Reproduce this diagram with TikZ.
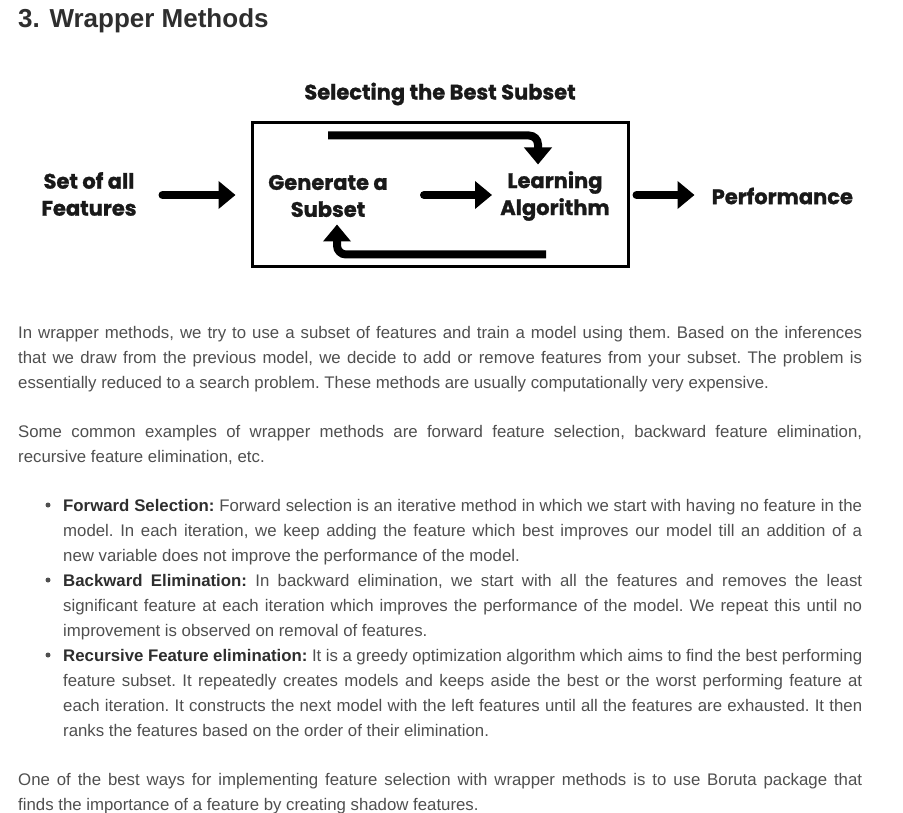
\documentclass[tikz,border=0pt]{standalone}
\usepackage{fontspec}
\setmainfont{Liberation Sans}
\newfontfamily\diafont{Poppins}[BoldFeatures={FakeBold=1.2}]
\usetikzlibrary{arrows.meta}
\usetikzlibrary{calc}
\definecolor{bodygray}{HTML}{4F4F4F}
\definecolor{headgray}{HTML}{2E2E2E}
\tikzset{
	diatext/.style={font=\diafont\bfseries\fontsize{21}{27}\selectfont, align=center, inner sep=0pt, text=black!90},
	fat/.style={line width=8pt, line cap=round, -{Triangle[length=17pt,width=27pt]}},
	bent/.style={fat, line cap=butt, rounded corners=9pt},
	body/.style={anchor=base west, inner sep=0pt, text width=844pt, align=justify, text=bodygray, font=\frenchspacing\fontsize{16.8}{25}\selectfont},
	item/.style={body, text width=799pt},
	dot/.style={circle, fill=bodygray, inner sep=0pt, minimum size=5pt},
}
\newcommand{\lead}[1]{\textcolor{headgray}{\textbf{#1}}}

\begin{document}
\begin{tikzpicture}[x=1pt, y=-1pt]
	% 903px x 813px, 1px = 1pt
	\useasboundingbox (0,0) rectangle (903,813);
	\node[anchor=base west, inner sep=0pt, text=headgray, font=\bfseries\fontsize{26}{30}\selectfont] (head) at (18,28) {3. Wrapper Methods};
	
	% the diagram
	\node[diatext] (title) at (440,94) {Selecting the Best Subset};
	\node[draw, line width=3pt, minimum width=376pt, minimum height=144pt, inner sep=0pt] (loop) at (440,195) {};
	\node[diatext] (allset) at (89,194) {Set of all\\Features};
	\node[diatext] (gen) at (328,196) {Generate a\\Subset};
	\node[diatext] (learn) at (555,196) {Learning\\Algorithm};
	\node[diatext, anchor=west] (perf) at ([xshift=82pt,yshift=-1pt]loop.east) {Performance};
	
	\draw[fat] ([xshift=-88pt]loop.west) -- ([xshift=-15pt]loop.west);
	\draw[fat] ([xshift=-16pt]loop.center) -- ([xshift=52pt]loop.center);
	\draw[fat] ([xshift=7pt]loop.east) -- ([xshift=65pt]loop.east);
	% feedback round the loop
	\draw[bent] ([xshift=-112pt,yshift=-14pt]loop.north) -| ([xshift=98pt,yshift=-43pt]loop.north);
	\draw[bent] ([xshift=106pt,yshift=14pt]loop.south) -| ([xshift=-103pt,yshift=44pt]loop.south);
	
	% text below
	\node[body] (intro) at (18,338) {In wrapper methods, we try to use a subset of features and train a model using them. Based on the inferences\linebreak
	that we draw from the previous model, we decide to add or remove features from your subset. The problem is\linebreak
	essentially reduced to a search problem. These methods are usually computationally very expensive.};
	\node[body] (common) at (18,437) {Some common examples of wrapper methods are forward feature selection, backward feature elimination,\linebreak
	recursive feature elimination, etc.};
	
	\foreach \y [count=\i] in {505,580,655}
		\node[dot] (dot\i) at (48,\y) {};
	\node[item] (fwd) at (63,511) {\lead{Forward Selection:} Forward selection is an iterative method in which we start with having no feature in the\linebreak
	model. In each iteration, we keep adding the feature which best improves our model till an addition of a\linebreak
	new variable does not improve the performance of the model.};
	\node[item] (bwd) at (63,586) {\lead{Backward Elimination:} In backward elimination, we start with all the features and removes the least\linebreak
	significant feature at each iteration which improves the performance of the model. We repeat this until no\linebreak
	improvement is observed on removal of features.};
	\node[item] (rfe) at (63,661) {\lead{Recursive Feature elimination:} It is a greedy optimization algorithm which aims to find the best performing\linebreak
	feature subset. It repeatedly creates models and keeps aside the best or the worst performing feature at\linebreak
	each iteration. It constructs the next model with the left features until all the features are exhausted. It then\linebreak
	ranks the features based on the order of their elimination.};
	
	\node[body] (boruta) at (18,785) {One of the best ways for implementing feature selection with wrapper methods is to use Boruta package that\linebreak
	finds the importance of a feature by creating shadow features.};
\end{tikzpicture}
\end{document}
